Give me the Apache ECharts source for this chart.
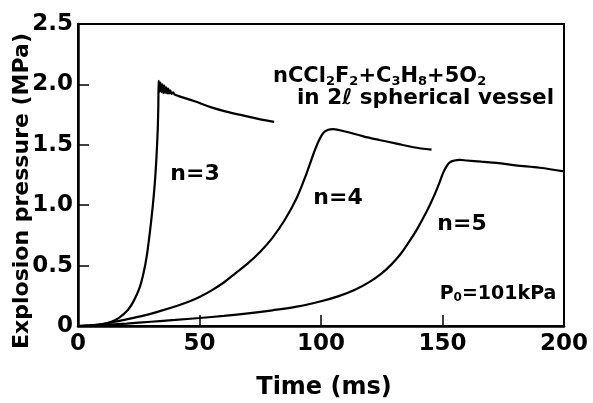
<!DOCTYPE html>
<html>
<head>
<meta charset="utf-8">
<script src="https://cdn.jsdelivr.net/npm/echarts@6/dist/echarts.min.js"></script>
<style>
html,body{margin:0;padding:0;background:#fff;}
#chart{width:593px;height:403px;}
</style>
</head>
<body>
<div id="chart"></div>
<script>
// ---- data (time in ms, pressure in MPa) ----
var n3Data = [
  [0,0],[5,0.004],[10,0.014],[13.7,0.035],[17,0.07],[20.6,0.135],[23,0.21],[25.4,0.32],
  [27,0.44],[28.3,0.58],[29.6,0.78],[30.7,0.98],[31.6,1.18],[32.3,1.4],[32.8,1.62],
  [33.05,1.82],[33.2,2.03],[33.5,1.94],[33.9,2.015],[34.3,1.935],[34.7,2.0],[35.1,1.93],
  [35.5,1.99],[35.9,1.93],[36.3,1.975],[36.7,1.925],[37.1,1.965],[37.5,1.925],[38,1.95],
  [38.5,1.92],[39.1,1.935],[39.8,1.915],[41.2,1.905],[48,1.86],[54.9,1.81],
  [61,1.775],[68.6,1.74],[75,1.71],[80.7,1.69]
];
var n4Data = [
  [0,0],[5,0.005],[10,0.016],[13.7,0.03],[20,0.055],[27.4,0.088],[34,0.125],[41.2,0.17],
  [46,0.205],[50,0.24],[55,0.295],[60,0.36],[65,0.44],[70,0.52],[75,0.615],[80,0.73],[85,0.875],
  [90,1.06],[94,1.26],[97,1.43],[99,1.53],[101,1.6],[103,1.625],[105,1.63],[110,1.61],
  [117.4,1.57],[124,1.54],[131.1,1.51],[138,1.48],[145.5,1.46]
];
var n5Data = [
  [0,0],[10,0.008],[20,0.02],[30,0.035],[40,0.05],[50,0.066],[60,0.084],[70,0.105],
  [80,0.13],[90,0.16],[100,0.205],[107,0.245],[114,0.3],[120,0.365],[125,0.435],
  [129,0.51],[132.5,0.59],[136,0.69],[139.5,0.8],[142.5,0.91],[145,1.01],[147,1.1],
  [148.8,1.19],[150.3,1.27],[151.6,1.32],[153,1.355],[155,1.37],[157,1.375],[160,1.37],
  [166,1.36],[172.3,1.35],[180,1.33],[190,1.31],[200,1.28]
];
var xTickLabels = ['0','50','100','150','200'];
var yTickLabels = ['0','0.5','1.0','1.5','2.0','2.5'];
var seriesNames = ['n=3','n=4','n=5'];

var FONT = 'DejaVu Sans';
var chart = echarts.init(document.getElementById('chart'), null, {renderer:'canvas'});

function lineSeries(name, data){
  return {
    name: name, type: 'line', data: data, showSymbol: false, symbol: 'none',
    smooth: 0.35,
    lineStyle: {color: '#000', width: 2.2}, silent: true
  };
}

var option = {
  backgroundColor: '#fff',
  animation: false,
  textStyle: {fontFamily: FONT, color: '#000'},
  grid: {left: 78, right: 29, top: 24, bottom: 77, show: true, borderColor: '#000', borderWidth: 2, backgroundColor: 'transparent'},
  xAxis: {
    type: 'value', min: 0, max: 200, interval: 50,
    axisLine: {show: true, lineStyle: {color: '#000', width: 2.5}},
    axisTick: {show: true, inside: true, length: 11, lineStyle: {color: '#000', width: 1.5}},
    splitLine: {show: false},
    axisLabel: {
      color: '#000', fontSize: 23, fontWeight: 'bold', fontFamily: FONT, margin: 7,
      formatter: function(v){ return xTickLabels[Math.round(v/50)]; }
    }
  },
  yAxis: {
    type: 'value', min: 0, max: 2.5, interval: 0.5,
    axisLine: {show: true, lineStyle: {color: '#000', width: 2.5}},
    axisTick: {show: true, inside: true, length: 11, lineStyle: {color: '#000', width: 1.5}},
    splitLine: {show: false},
    axisLabel: {
      color: '#000', fontSize: 23, fontWeight: 'bold', fontFamily: FONT, margin: 5,
      formatter: function(v){ return yTickLabels[Math.round(v/0.5)]; }
    }
  },
  series: [
    lineSeries(seriesNames[0], n3Data),
    lineSeries(seriesNames[1], n4Data),
    lineSeries(seriesNames[2], n5Data)
  ],
  graphic: [
    {type:'text', x: 273, y: 77, style: {
      text: '{b|nCCl}{s|2}{b|F}{s|2}{b|+C}{s|3}{b|H}{s|8}{b|+5O}{s|2}',
      verticalAlign: 'middle', align: 'left',
      rich: {
        b: {fontSize: 21, fontWeight: 'bold', fontFamily: FONT, fill: '#000', lineHeight: 22},
        s: {fontSize: 13, fontWeight: 'bold', fontFamily: FONT, fill: '#000', lineHeight: 14, verticalAlign: 'bottom'}
      }
    }},
    {type:'text', x: 297, y: 98, style: {
      text: 'in 2ℓ spherical vessel', verticalAlign: 'middle', align: 'left',
      font: 'bold 21.5px "DejaVu Sans"', fill: '#000'
    }},
    {type:'text', x: 195, y: 174, style: {text: seriesNames[0], align:'center', verticalAlign:'middle', font: 'bold 22px "DejaVu Sans"', fill:'#000'}},
    {type:'text', x: 338, y: 198, style: {text: seriesNames[1], align:'center', verticalAlign:'middle', font: 'bold 22px "DejaVu Sans"', fill:'#000'}},
    {type:'text', x: 462, y: 224, style: {text: seriesNames[2], align:'center', verticalAlign:'middle', font: 'bold 22px "DejaVu Sans"', fill:'#000'}},
    {type:'text', x: 498, y: 294, style: {
      text: '{b|P}{s|0}{b|=101kPa}', align: 'center', verticalAlign: 'middle',
      rich: {
        b: {fontSize: 19, fontWeight: 'bold', fontFamily: FONT, fill: '#000', lineHeight: 20},
        s: {fontSize: 12, fontWeight: 'bold', fontFamily: FONT, fill: '#000', lineHeight: 13, verticalAlign: 'bottom'}
      }
    }},
    {type:'text', x: 324, y: 388, style: {text: 'Time (ms)', align:'center', verticalAlign:'middle', font: 'bold 24px "DejaVu Sans"', fill:'#000'}},
    {type:'text', x: 22, y: 191, rotation: Math.PI/2, style: {text: 'Explosion pressure (MPa)', align:'center', verticalAlign:'middle', font: 'bold 22px "DejaVu Sans"', fill:'#000'}}
  ]
};
chart.setOption(option);
</script>
</body>
</html>
